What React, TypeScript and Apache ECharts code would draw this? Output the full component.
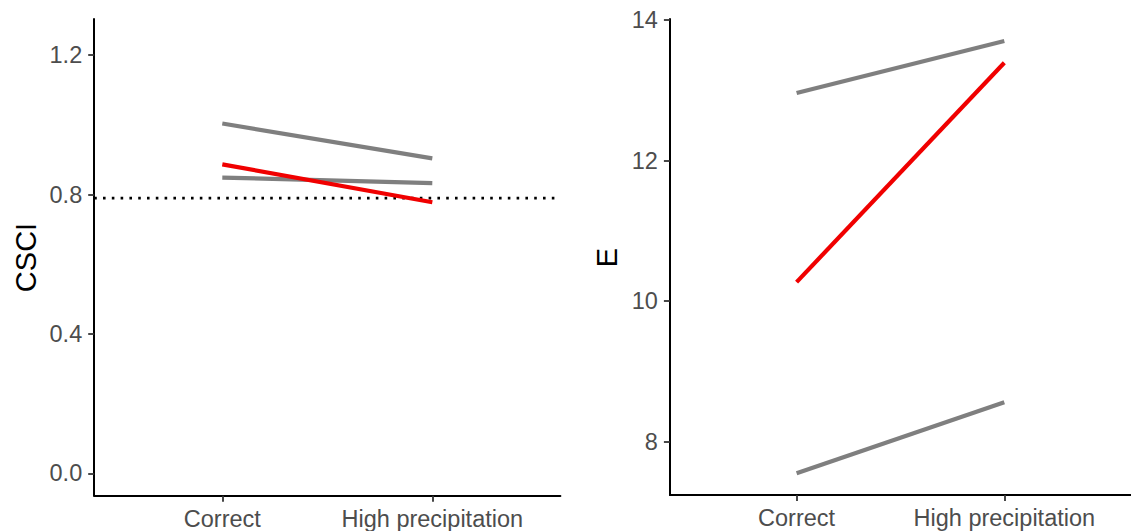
import React, { useEffect, useRef } from "react";
import * as echarts from "echarts";

const categories = ["Correct", "High precipitation"];
const csciGrayHigh = [1.004, 0.904];
const csciGrayLow = [0.849, 0.833];
const csciRed = [0.887, 0.778];
const csciThreshold = 0.79;
const csciTicks = [0, 0.4, 0.8, 1.2];
const eGrayHigh = [12.96, 13.7];
const eGrayLow = [7.55, 8.56];
const eRed = [10.27, 13.39];
const eTicks = [8, 10, 12, 14];

const FONT = "'Liberation Sans', Arial, sans-serif";
const GRAY = "#7f7f7f";
const RED = "#f00000";

function toPoints(vals: number[]) {
  return vals.map((v, i) => [i + 1, v]);
}

export default function App() {
  const ref = useRef<HTMLDivElement>(null);
  useEffect(() => {
    if (!ref.current) return;
    const chart = echarts.init(ref.current, null, { renderer: "svg" });
    const xAxisBase = (gridIndex: number) => ({
      type: "value",
      gridIndex,
      min: 0.39,
      max: 2.61,
      splitLine: { show: false },
      axisLine: { show: true, onZero: false, lineStyle: { color: "#000", width: 2 } },
      axisTick: { show: true, customValues: [1, 2], length: 6, lineStyle: { color: "#333", width: 1.8 } },
      axisLabel: {
        customValues: [1, 2],
        formatter: (v: number) => categories[Math.round(v) - 1] ?? "",
        color: "#4d4d4d",
        fontSize: 23.5,
        fontFamily: FONT,
        margin: 11,
      },
    });
    const yAxisBase = (gridIndex: number, min: number, max: number, ticks: number[], fmt: (v: number) => string) => ({
      type: "value",
      gridIndex,
      min,
      max,
      splitLine: { show: false },
      axisLine: { show: true, onZero: false, lineStyle: { color: "#000", width: 2 } },
      axisTick: { show: true, customValues: ticks, length: 6, lineStyle: { color: "#333", width: 1.8 } },
      axisLabel: {
        customValues: ticks,
        formatter: fmt,
        color: "#4d4d4d",
        fontSize: 23.5,
        fontFamily: FONT,
        margin: 12,
      },
    });
    const lineSeries = (name: string, x: number, y: number, vals: number[], color: string, z: number) => ({
      name,
      type: "line",
      xAxisIndex: x,
      yAxisIndex: y,
      data: toPoints(vals),
      symbol: "none",
      z,
      lineStyle: { color, width: 4.2, cap: "butt" },
    });
    chart.setOption({
      animation: false,
      backgroundColor: "#fff",
      grid: [
        { left: 94.2, top: 19, width: 466.2, height: 476.7, containLabel: false },
        { left: 669.9, top: 19, width: 473.5, height: 476, containLabel: false },
      ],
      xAxis: [xAxisBase(0), xAxisBase(1)],
      yAxis: [
        yAxisBase(0, -0.064, 1.304, csciTicks, (v: number) => v.toFixed(1)),
        yAxisBase(1, 7.242, 14.013, eTicks, (v: number) => String(Math.round(v))),
      ],
      graphic: [
        {
          type: "text",
          x: 26,
          y: 257.5,
          rotation: Math.PI / 2,
          style: {
            text: "CSCI",
            fontSize: 29,
            fontFamily: FONT,
            fill: "#000",
            align: "center",
            verticalAlign: "middle",
          },
        },
        {
          type: "text",
          x: 607,
          y: 257.5,
          rotation: Math.PI / 2,
          style: {
            text: "E",
            fontSize: 29,
            fontFamily: FONT,
            fill: "#000",
            align: "center",
            verticalAlign: "middle",
          },
        },
      ],
      series: [
        {
          name: "threshold",
          type: "line",
          xAxisIndex: 0,
          yAxisIndex: 0,
          data: [
            [0.39, csciThreshold],
            [2.61, csciThreshold],
          ],
          symbol: "none",
          z: 1,
          lineStyle: { color: "#000", width: 2.6, type: [2.6, 6.2], cap: "butt" },
        },
        lineSeries("csciGrayHigh", 0, 0, csciGrayHigh, GRAY, 2),
        lineSeries("csciGrayLow", 0, 0, csciGrayLow, GRAY, 2),
        lineSeries("csciRed", 0, 0, csciRed, RED, 3),
        lineSeries("eGrayHigh", 1, 1, eGrayHigh, GRAY, 2),
        lineSeries("eGrayLow", 1, 1, eGrayLow, GRAY, 2),
        lineSeries("eRed", 1, 1, eRed, RED, 3),
      ],
    });
    return () => chart.dispose();
  }, []);
  return (
    <div
      ref={ref}
      style={{ position: "fixed", left: 0, top: 0, width: 1131, height: 531, background: "#fff" }}
    />
  );
}
